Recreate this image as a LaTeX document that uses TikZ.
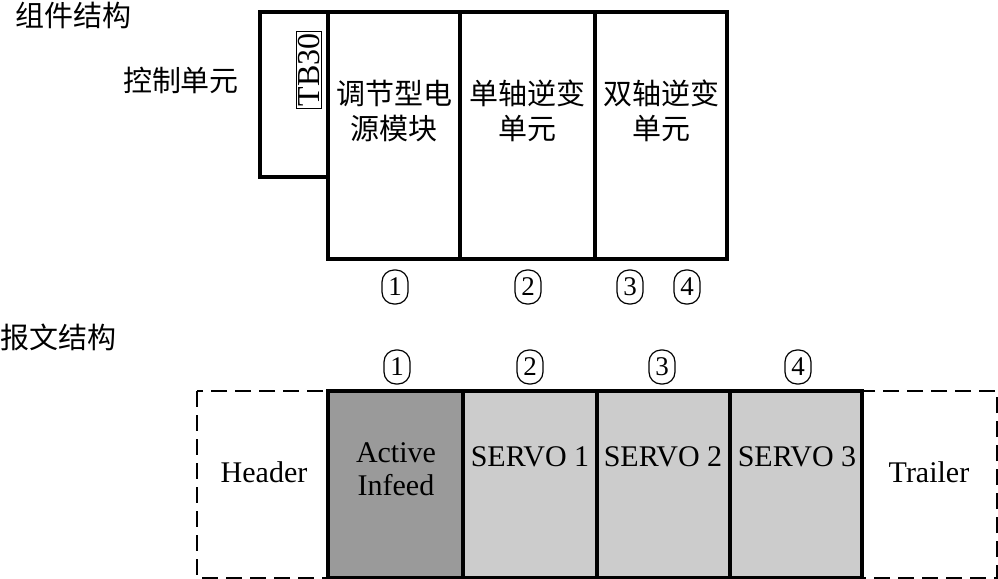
\documentclass[tikz,border=0pt]{standalone}
\usepackage{fontspec}
\setmainfont{Liberation Serif}
\newfontfamily\cjk{Noto Sans CJK SC}
\usepackage{tikz}
\usetikzlibrary{positioning}
\definecolor{infeed}{HTML}{9A9A9A}
\definecolor{servo}{HTML}{CCCCCC}
\tikzset{
  hdr/.style={font=\cjk\fontsize{14.5}{17}\selectfont, inner sep=0pt},
  unitlbl/.style={font=\cjk\fontsize{14.5}{17.5}\selectfont, align=center, inner sep=0pt},
  num/.style={draw, line width=0.6pt, rounded corners=6pt, minimum width=13pt, minimum height=17pt, inner sep=0pt, font=\fontsize{13.5}{14}\selectfont},
  slot/.style={font=\fontsize{15}{16.5}\selectfont, align=center, inner sep=0pt},
  frame/.style={line width=2pt},
  dashbox/.style={line width=1pt, dash pattern=on 8pt off 4pt}
}
\begin{document}
\begin{tikzpicture}[x=0.5pt, y=-0.5pt]
\useasboundingbox (0,0) rectangle (998,579);
% component structure
\node[hdr] (comp) at (74,15) {组件结构};
\node[hdr] (ctrl) at (181,80) {控制单元};
\draw[line width=1.8pt] (260,12) rectangle (328,177);
\draw[frame] (328,12) rectangle (727,259) (460,12) -- (460,259) (595,12) -- (595,259);
\node[draw, line width=0.6pt, rotate=90, inner sep=1pt, font=\fontsize{16}{16}\selectfont] (tb) at (309,70) {TB30};
\node[unitlbl] (psu) at (394,111) {调节型电\\源模块};
\node[unitlbl] (ax1) at (527,111) {单轴逆变\\单元};
\node[unitlbl] (ax2) at (661,111) {双轴逆变\\单元};
\node[num] (m1) at (395,287) {1};
\node[num] (m2) at (528,287) {2};
\node[num] (m3) at (630,287) {3};
\node[num] (m4) at (687,287) {4};
% telegram structure
\node[hdr] (tele) at (59,337) {报文结构};
\draw[dashbox] (197,391) rectangle (997,578);
\fill[infeed] (328,391) rectangle (463,578);
\fill[servo] (463,391) rectangle (862,578);
\draw[frame] (328,391) rectangle (862,578) (463,391) -- (463,578) (597,391) -- (597,578) (730,391) -- (730,578);
\node[slot] (hd) at (264,472) {Header};
\node[slot] (ai) at (396,469) {Active\\Infeed};
\node[slot] (s1) at (530,457) {SERVO 1};
\node[slot] (s2) at (663,457) {SERVO 2};
\node[slot] (s3) at (797,457) {SERVO 3};
\node[slot] (tr) at (929,472) {Trailer};
\node[num] (t1) at (397,367) {1};
\node[num] (t2) at (530,367) {2};
\node[num] (t3) at (662,367) {3};
\node[num] (t4) at (798,367) {4};
\end{tikzpicture}
\end{document}
